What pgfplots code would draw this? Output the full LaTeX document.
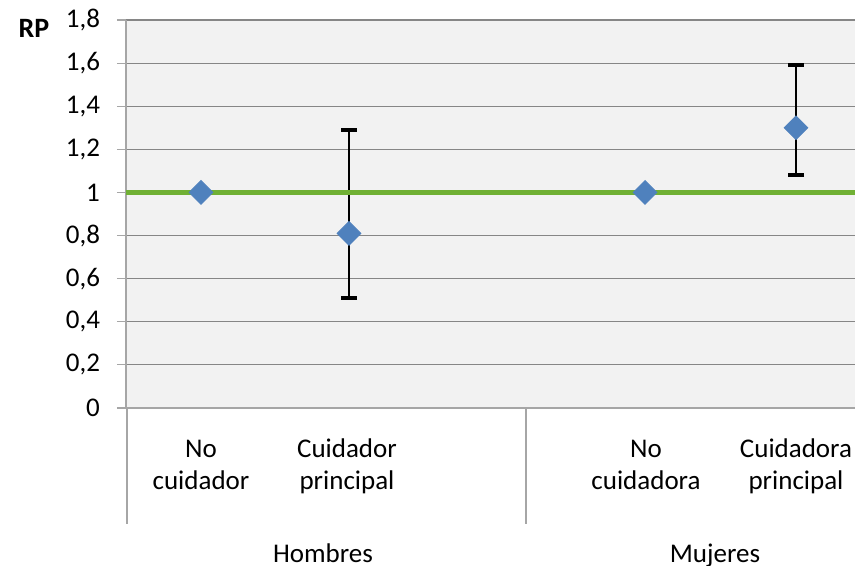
\documentclass[border=0pt]{standalone}
\usepackage{pgfplots}
\pgfplotsset{compat=1.18}
\usepackage{fontspec}
\setmainfont{Carlito}
\usetikzlibrary{calc}
\definecolor{bg}{RGB}{242,242,242}
\definecolor{gridc}{RGB}{134,134,134}
\definecolor{axc}{RGB}{166,166,166}
\definecolor{diam}{RGB}{79,129,189}
\definecolor{grn}{RGB}{112,176,52}
\newcommand{\lf}{\fontsize{13.5}{16}\selectfont}
\begin{document}
\begin{tikzpicture}
\begin{axis}[
  scale only axis, width=364.5pt, height=194pt,
  xmin=126, xmax=855, ymin=0, ymax=1.8,
  axis background/.style={fill=bg},
  axis x line*=bottom, axis y line*=left,
  axis line style={axc, line width=0.6pt, -},
  xtick=\empty,
  ytick={0,0.2,0.4,0.6,0.8,1,1.2,1.4,1.6,1.8},
  ymajorgrids, grid style={gridc, line width=0.6pt},
  tick align=outside, major tick length=4.5pt,
  ytick style={axc, line width=0.6pt},
  yticklabel style={xshift=-5pt, /pgf/number format/.cd, fixed, precision=1, use comma, assume math mode=true},
  ticklabel style={font=\lf, text=black},
  clip=false,
]
\addplot[only marks, mark=square*, mark size=4.2pt,
  mark options={rotate=45, fill=diam, draw=diam}]
  coordinates {(201,1) (645,1)};
\addplot[only marks, mark=square*, mark size=4.2pt,
  mark options={rotate=45, fill=diam, draw=diam},
  error bars/.cd, y dir=both, y explicit, error mark=|,
  error bar style={black, line width=0.7pt},
  error mark options={black, line width=2pt, mark size=4pt}]
  coordinates {(349,0.81) += (0,0.48) -= (0,0.30)
               (796,1.30) += (0,0.29) -= (0,0.22)};
\addplot[grn, line width=2.5pt] coordinates {(126,1) (855,1)};
\draw[axc, line width=0.6pt] (axis cs:127,0) -- ([yshift=-58pt]axis cs:127,0);
\draw[axc, line width=0.6pt] (axis cs:526,0) -- ([yshift=-58pt]axis cs:526,0);
\node[anchor=base, font=\lf, yshift=-24.5pt] at (axis cs:201,0) {No};
\node[anchor=base, font=\lf, yshift=-41pt] at (axis cs:201,0) {cuidador};
\node[anchor=base, font=\lf, yshift=-24.5pt] at (axis cs:347,0) {Cuidador};
\node[anchor=base, font=\lf, yshift=-41pt] at (axis cs:347,0) {principal};
\node[anchor=base, font=\lf, yshift=-24.5pt] at (axis cs:646,0) {No};
\node[anchor=base, font=\lf, yshift=-41pt] at (axis cs:646,0) {cuidadora};
\node[anchor=base, font=\lf, yshift=-24.5pt] at (axis cs:796,0) {Cuidadora};
\node[anchor=base, font=\lf, yshift=-41pt] at (axis cs:796,0) {principal};
\node[anchor=base, font=\lf, yshift=-77pt] at (axis cs:323,0) {Hombres};
\node[anchor=base, font=\lf, yshift=-77pt] at (axis cs:715,0) {Mujeres};
\node[font=\bfseries\fontsize{14}{16}\selectfont, xshift=-46pt, yshift=-4pt] at (rel axis cs:0,1) {RP};
\end{axis}
\pgfresetboundingbox
\useasboundingbox ($(current axis.south west)+(-63pt,-79pt)$) rectangle ($(current axis.north east)+(0,10pt)$);
\end{tikzpicture}
\end{document}
